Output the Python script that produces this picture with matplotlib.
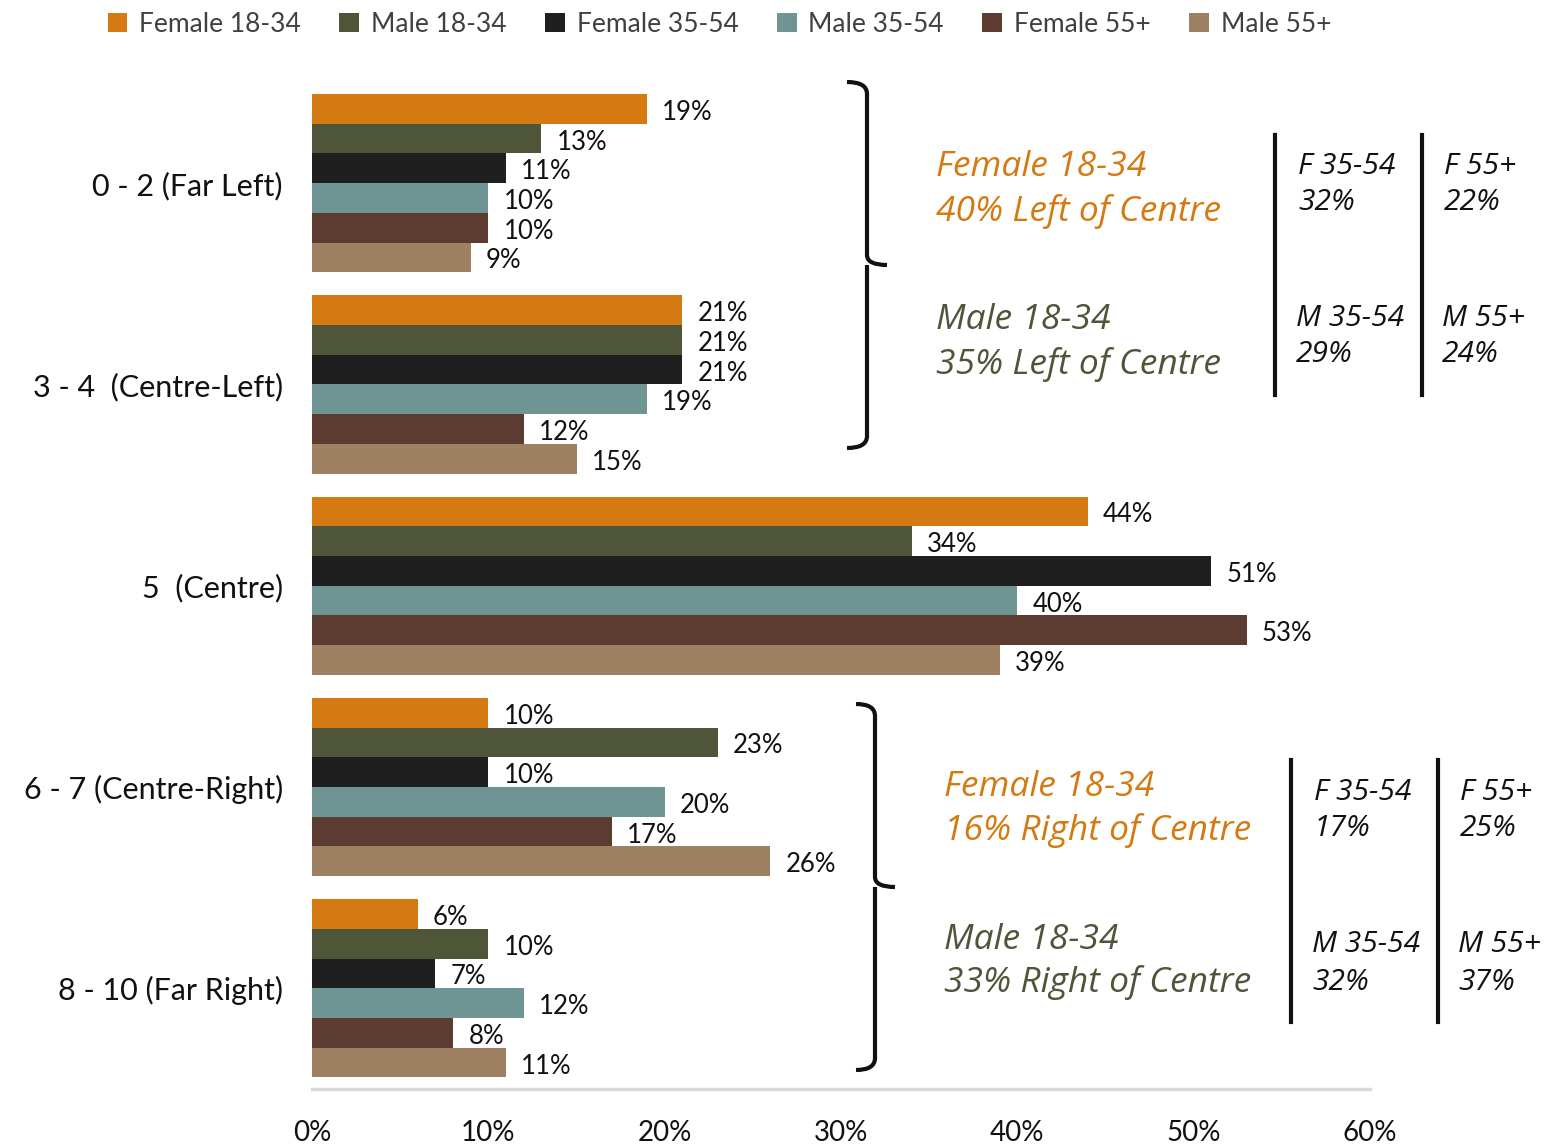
import matplotlib.pyplot as plt
import numpy as np
from matplotlib.patches import Patch, PathPatch
from matplotlib.path import Path

plt.rcParams['font.family'] = ['Lato', 'DejaVu Sans']

categories = ['0 - 2 (Far Left)', '3 - 4  (Centre-Left)', '5  (Centre)',
              '6 - 7 (Centre-Right)', '8 - 10 (Far Right)']
series = ['Female 18-34', 'Male 18-34', 'Female 35-54', 'Male 35-54', 'Female 55+', 'Male 55+']
female_18_34 = [19, 21, 44, 10, 6]
male_18_34 = [13, 21, 34, 23, 10]
female_35_54 = [11, 21, 51, 10, 7]
male_35_54 = [10, 19, 40, 20, 12]
female_55 = [10, 12, 53, 17, 8]
male_55 = [9, 15, 39, 26, 11]
values = [female_18_34, male_18_34, female_35_54, male_35_54, female_55, male_55]
colors = ['#D57A13', '#4F5539', '#1F1F1F', '#6E9593', '#5C3B30', '#9E8062']
xticks = [0, 10, 20, 30, 40, 50, 60]

W, H = 1547, 1145
fig = plt.figure(figsize=(W / 100, H / 100), dpi=100)
ax = fig.add_axes([312 / W, 1 - 1089 / H, (1370 - 312) / W, (1089 - 82.5) / H])


def fx(px):
    return px / W


def fy(py):
    return 1 - py / H


bar_h = 0.1475
y = np.arange(len(categories))
for i, (name, vals, col) in enumerate(zip(series, values, colors)):
    pos = y - 2.5 * bar_h + i * bar_h
    ax.barh(pos, vals, height=bar_h, color=col, label=name)
    for p, v in zip(pos, vals):
        ax.annotate(f'{v}%', (v, p), xytext=(11, -2.5), textcoords='offset points',
                    va='center', ha='left', fontsize=18.5, color='#111111')

ax.set_xlim(0, 60)
ax.set_ylim(len(categories) - 0.5, -0.5)
ax.set_yticks(y)
ax.set_yticklabels(categories, fontsize=22, color='#111111')
ax.set_xticks(xticks)
ax.set_xticklabels([f'{t}%' for t in xticks], fontsize=20, color='#111111')
ax.tick_params(length=0)
ax.tick_params(axis='y', pad=21)
ax.tick_params(axis='x', pad=22)
for s in ['top', 'right', 'left']:
    ax.spines[s].set_visible(False)
ax.spines['bottom'].set_color('#D9D9D9')
ax.spines['bottom'].set_linewidth(2.5)

handles = [Patch(facecolor=c, label=s) for s, c in zip(series, colors)]
fig.legend(handles=handles, loc='center', bbox_to_anchor=(0.465, fy(24)), ncol=6,
           frameon=False, fontsize=19, handlelength=0.75, handleheight=0.75,
           handletextpad=0.45, columnspacing=1.45, labelcolor='#404040')


def brace(x_end, x_mid, x_tip, y_top, y_tip, y_bot):
    verts = [(x_end, y_top), (x_mid, y_top), (x_mid, y_top + 12),
             (x_mid, y_tip - 10), (x_mid, y_tip), (x_tip, y_tip),
             (x_mid, y_tip), (x_mid, y_tip + 10),
             (x_mid, y_bot - 12), (x_mid, y_bot), (x_end, y_bot)]
    codes = [Path.MOVETO, Path.CURVE3, Path.CURVE3,
             Path.LINETO, Path.CURVE3, Path.CURVE3,
             Path.MOVETO, Path.CURVE3,
             Path.LINETO, Path.CURVE3, Path.CURVE3]
    verts = [(fx(a), fy(b)) for a, b in verts]
    fig.patches.append(PathPatch(Path(verts, codes), fill=False, lw=3, ec='#111111',
                                 transform=fig.transFigure, capstyle='butt'))


brace(847, 867, 887, 82, 265, 448)
brace(856, 875, 895, 704, 887, 1070)


def vline(x, y0, y1):
    fig.add_artist(plt.Line2D([fx(x), fx(x)], [fy(y0), fy(y1)], color='#111111', lw=3,
                              transform=fig.transFigure))


def note(x, yy, s, color, size):
    fig.text(fx(x), fy(yy), s, color=color, fontsize=size, style='italic',
             family=['Open Sans', 'DejaVu Sans'], ha='left', va='center')


# upper summary block
note(936, 167, 'Female 18-34', colors[0], 25.5)
note(936, 211, '40% Left of Centre', colors[0], 25.5)
note(936, 320, 'Male 18-34', colors[1], 25.5)
note(936, 365, '35% Left of Centre', colors[1], 25.5)
vline(1275, 135, 395)
vline(1422, 135, 395)
note(1298, 166, 'F 35-54', '#111111', 21.5)
note(1298, 202, '32%', '#111111', 21.5)
note(1444, 166, 'F 55+', '#111111', 21.5)
note(1444, 202, '22%', '#111111', 21.5)
note(1296, 319, 'M 35-54', '#111111', 21.5)
note(1296, 355, '29%', '#111111', 21.5)
note(1442, 319, 'M 55+', '#111111', 21.5)
note(1442, 355, '24%', '#111111', 21.5)

# lower summary block
note(944, 787, 'Female 18-34', colors[0], 25.5)
note(944, 830, '16% Right of Centre', colors[0], 25.5)
note(944, 940, 'Male 18-34', colors[1], 25.5)
note(944, 983, '33% Right of Centre', colors[1], 25.5)
vline(1291, 760, 1022)
vline(1438, 760, 1022)
note(1314, 793, 'F 35-54', '#111111', 21.5)
note(1314, 829, '17%', '#111111', 21.5)
note(1460, 793, 'F 55+', '#111111', 21.5)
note(1460, 829, '25%', '#111111', 21.5)
note(1312, 945, 'M 35-54', '#111111', 21.5)
note(1312, 982, '32%', '#111111', 21.5)
note(1458, 945, 'M 55+', '#111111', 21.5)
note(1458, 982, '37%', '#111111', 21.5)

fig.savefig('out.png', dpi=100)
